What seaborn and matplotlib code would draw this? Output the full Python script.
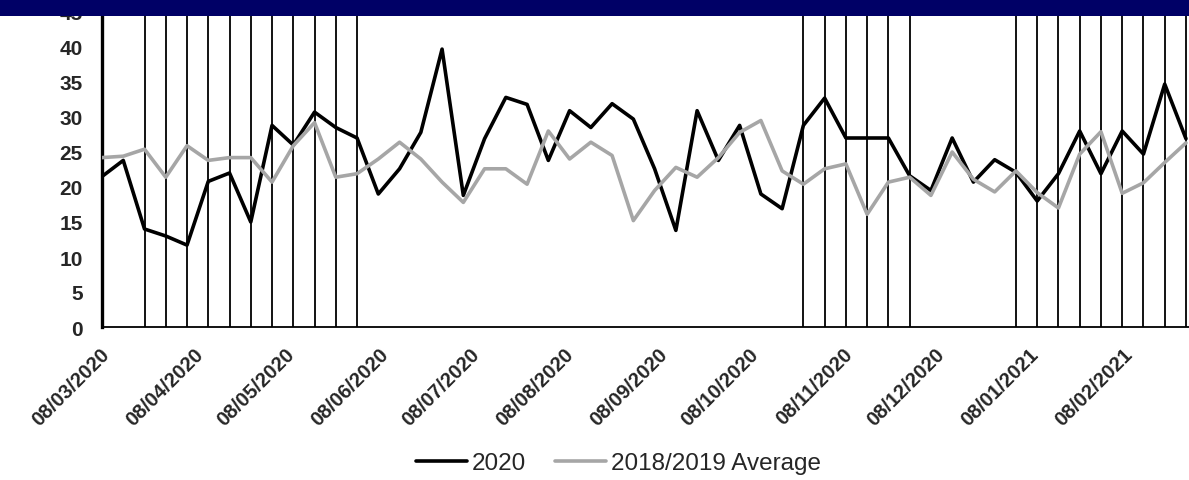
# Libraries
# =====================================================================
import pandas as pd
import seaborn as sns
import matplotlib.pyplot as plt
import matplotlib.dates as mdates
import matplotlib.transforms as mtransforms
from matplotlib.patches import Rectangle

# Data
# =====================================================================
# Weekly values, first week starting 08/03/2020
week_start = '2020-03-08'
values_2020 = [21.5, 23.8, 14.0, 13.0, 11.7, 20.8, 22.0, 15.0, 28.8, 26.0,
               30.7, 28.5, 27.0, 19.0, 22.6, 27.8, 39.7, 18.8, 26.9, 32.8,
               31.8, 23.8, 30.9, 28.5, 31.9, 29.7, 22.6, 13.8, 30.9, 23.8,
               28.8, 19.0, 16.9, 28.8, 32.7, 27.0, 27.0, 27.0, 21.6, 19.5,
               27.0, 20.7, 23.9, 22.1, 18.0, 21.9, 28.0, 21.9, 28.0, 24.7,
               34.7, 26.9]
values_avg = [24.2, 24.4, 25.4, 21.4, 25.9, 23.8, 24.2, 24.2, 20.7, 25.9,
              29.2, 21.4, 21.9, 24.0, 26.4, 24.0, 20.7, 17.8, 22.6, 22.6,
              20.4, 28.0, 24.0, 26.4, 24.5, 15.2, 19.5, 22.8, 21.4, 24.2,
              27.8, 29.5, 22.3, 20.4, 22.6, 23.3, 16.1, 20.7, 21.4, 18.8,
              25.0, 21.1, 19.3, 22.3, 19.2, 17.0, 24.7, 27.9, 19.1, 20.6,
              23.5, 26.3]
series_names = ['2020', '2018/2019 Average']

# Weeks marked with a vertical line
marked_weeks = ['2020-03-08', '2020-03-22', '2020-03-29', '2020-04-05', '2020-04-12',
                '2020-04-19', '2020-04-26', '2020-05-03', '2020-05-10', '2020-05-17',
                '2020-05-24', '2020-05-31',
                '2020-10-25', '2020-11-01', '2020-11-08', '2020-11-15', '2020-11-22',
                '2020-11-29',
                '2021-01-03', '2021-01-10', '2021-01-17', '2021-01-24', '2021-01-31',
                '2021-02-07', '2021-02-14', '2021-02-21', '2021-02-28']

# Axis ticks
tick_dates = ['2020-03-08', '2020-04-08', '2020-05-08', '2020-06-08', '2020-07-08',
              '2020-08-08', '2020-09-08', '2020-10-08', '2020-11-08', '2020-12-08',
              '2021-01-08', '2021-02-08']
y_ticks = [0, 5, 10, 15, 20, 25, 30, 35, 40, 45]

# Data Manipulation
# =====================================================================
dates = pd.date_range(week_start, periods=len(values_2020), freq='7D')
df = pd.DataFrame({'date': dates, series_names[0]: values_2020, series_names[1]: values_avg})
df_long = df.melt(id_vars='date', var_name='series', value_name='value')

# Data Visualization
# =====================================================================
sns.set_style('white')
plt.rcParams['font.family'] = ['Liberation Sans', 'DejaVu Sans']

fig = plt.figure(figsize=(11.89, 4.81), dpi=100)
ax = fig.add_axes([102 / 1189, 1 - 328 / 481, 1 - 102 / 1189, 315 / 481])

# Vertical week markers
ax.vlines(pd.to_datetime(marked_weeks), 0, 45, color='black', linewidth=1.3, zorder=1)

# Lines
palette = {series_names[0]: 'black', series_names[1]: '#a6a6a6'}
sns.lineplot(data=df_long, x='date', y='value', hue='series', hue_order=series_names,
             palette=palette, linewidth=2.6, ax=ax, zorder=3)

# Axes configuration
ax.set_xlim(pd.Timestamp('2020-03-08'), pd.Timestamp('2021-03-01'))
ax.set_ylim(0, 45)
ax.set_yticks(y_ticks)
ax.set_yticklabels([str(t) for t in y_ticks], fontsize=15, fontweight='bold')
ax.tick_params(axis='y', length=0, pad=14)
ax.set_xticks(pd.to_datetime(tick_dates))
ax.xaxis.set_major_formatter(mdates.DateFormatter('%d/%m/%Y'))
ax.tick_params(axis='x', length=6, width=1.2, direction='out', color='black', pad=11)
offset = mtransforms.ScaledTranslation(3 / 72, 0, fig.dpi_scale_trans)
for label in ax.get_xticklabels():
    label.set_rotation(45)
    label.set_ha('right')
    label.set_va('center')
    label.set_rotation_mode('anchor')
    label.set_fontsize(14.5)
    label.set_fontweight('bold')
    label.set_transform(label.get_transform() + offset)
ax.set_xlabel('')
ax.set_ylabel('')
for side in ['top', 'right']:
    ax.spines[side].set_visible(False)
ax.spines['left'].set_color('black')
ax.spines['left'].set_linewidth(2.4)
ax.spines['bottom'].set_color('black')
ax.spines['bottom'].set_linewidth(1.3)

# Legend at the bottom
ax.legend(title=None, frameon=False, ncol=2, fontsize=17.5, loc='center',
          bbox_to_anchor=(0.52, 0.035), bbox_transform=fig.transFigure,
          handlelength=2.1, handletextpad=0.2, columnspacing=1.2)

# Title banner (top strip)
fig.add_artist(Rectangle((0, 1 - 17 / 481), 1, 17 / 481, transform=fig.transFigure,
                         facecolor='#000066', edgecolor='none', zorder=10))

fig.savefig('out.png', dpi=100)
